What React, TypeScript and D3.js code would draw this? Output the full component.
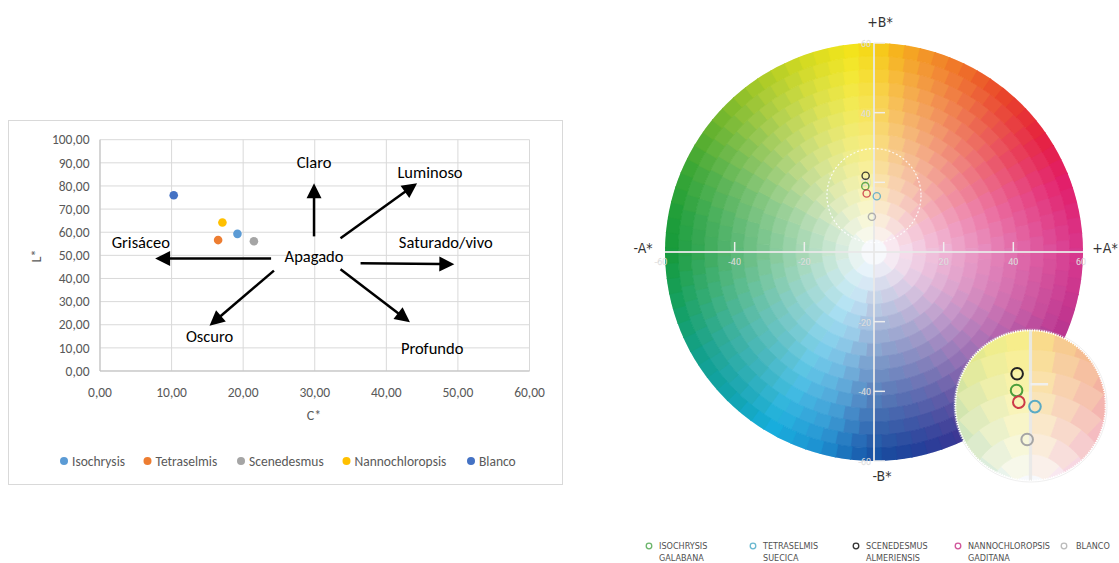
import React, { useMemo } from "react";
import * as d3 from "d3";

const W = 1119;
const H = 563;

// ---------- Left chart data (C* vs L*) ----------
const species = ["Isochrysis", "Tetraselmis", "Scenedesmus", "Nannochloropsis", "Blanco"];
const speciesColors = ["#5B9BD5", "#ED7D31", "#A5A5A5", "#FFC000", "#4472C4"];
const chromaC = [19.2, 16.5, 21.5, 17.1, 10.3];
const lightnessL = [59.3, 56.6, 56.1, 64.2, 76.0];
const xTicks = [0, 10, 20, 30, 40, 50, 60];
const yTicks = [0, 10, 20, 30, 40, 50, 60, 70, 80, 90, 100];

const annoLabels = ["Claro", "Luminoso", "Grisáceo", "Saturado/vivo", "Apagado", "Oscuro", "Profundo"];
const annoC = [29.9, 46.1, 5.7, 48.3, 29.9, 15.3, 46.4];
const annoL = [90.3, 86.0, 55.6, 55.6, 49.8, 14.9, 10.0];
const arrowFromC = [29.9, 33.6, 23.9, 36.4, 24.3, 33.6];
const arrowFromL = [58.2, 57.4, 48.6, 46.6, 43.4, 44.0];
const arrowToC = [29.9, 44.3, 7.7, 49.5, 15.3, 43.3];
const arrowToL = [81.2, 81.2, 48.6, 46.2, 19.6, 21.1];

// ---------- Right chart data (a*, b*) ----------
const labNames1 = ["ISOCHRYSIS", "TETRASELMIS", "SCENEDESMUS", "NANNOCHLOROPSIS", "BLANCO"];
const labNames2 = ["GALABANA", "SUECICA", "ALMERIENSIS", "GADITANA", ""];
const labA = [-2.5, 0.8, -2.4, -2.1, -0.6];
const labB = [18.9, 16.0, 21.9, 16.8, 10.1];
const labMarkColors = ["#4c9e3c", "#5aaac4", "#222222", "#cc3a48", "#a5a5a5"];
const labLegendColors = ["#6bb56b", "#6ab8d0", "#333333", "#d0559a", "#bbbbbb"];
const wheelTicks = [-60, -40, -20, 20, 40, 60];
const zoomCenterB = 16.2;
const zoomRadiusUnits = 13.5;
const zoomFactor = 1.6;

const hueStops: [number, string][] = [
  [0, "#d8388e"], [20, "#e21f6a"], [35, "#e5233f"], [50, "#e9452b"], [62, "#ee6a2a"],
  [75, "#f39428"], [85, "#f7b91d"], [90, "#f6d41a"], [97, "#f3e51c"], [110, "#d3da22"],
  [125, "#a5c82a"], [140, "#6fb52e"], [155, "#3da735"], [170, "#1f9e3a"], [180, "#189b3c"],
  [195, "#16a060"], [210, "#13a08a"], [225, "#12a3ad"], [240, "#18aedd"], [255, "#1e8fd0"],
  [265, "#1b65b3"], [272, "#1a4d9f"], [282, "#24409a"], [295, "#3c3894"], [310, "#6a3595"],
  [325, "#9b3595"], [340, "#c0368f"], [360, "#d8388e"],
];

function edgeColor(h: number) {
  h = ((h % 360) + 360) % 360;
  for (let i = 0; i < hueStops.length - 1; i++) {
    const [a0, c0] = hueStops[i];
    const [a1, c1] = hueStops[i + 1];
    if (h >= a0 && h <= a1) return d3.interpolateRgb(c0, c1)((h - a0) / (a1 - a0));
  }
  return hueStops[0][1];
}

const FONT_XL = "Carlito, Lato, 'Open Sans', sans-serif";
const FONT_COND = "'DejaVu Sans Condensed', 'Liberation Sans Narrow', sans-serif";

export default function App() {
  // left chart scales
  const xS = d3.scaleLinear().domain([0, 60]).range([100, 529.5]);
  const yS = d3.scaleLinear().domain([0, 100]).range([371, 139.7]);

  // wheel geometry
  const cx = 874;
  const cy = 252;
  const R = 209;
  const aS = d3.scaleLinear().domain([-60, 60]).range([cx - R, cx + R]);
  const bS = d3.scaleLinear().domain([-60, 60]).range([cy + R, cy - R]);
  const pxPerUnit = R / 60;
  const dcx = aS(0);
  const dcy = bS(zoomCenterB);
  const dR = zoomRadiusUnits * pxPerUnit;
  const icx = 1030.5;
  const icy = 405.5;
  const iR = dR * zoomFactor;

  const cells = useMemo(() => {
    const out: { d: string; c: string }[] = [];
    const N = 16;
    const rw = R / N;
    const arc = d3.arc();
    for (let i = 0; i < N; i++) {
      const r0 = i * rw;
      const r1 = r0 + rw;
      const t = i / (N - 1);
      const nSec = i === 0 ? 1 : Math.max(6, Math.round((2 * Math.PI * (r0 + r1)) / 2 / (rw * 1.15)));
      for (let j = 0; j < nSec; j++) {
        const s = (j / nSec) * 2 * Math.PI;
        const e = ((j + 1) / nSec) * 2 * Math.PI;
        const mid = (s + e) / 2;
        const hue = 90 - (mid * 180) / Math.PI;
        const base = i === 0 ? "#f7f9fc" : d3.interpolateRgb("#fbfbfd", edgeColor(hue))(Math.pow(t, 0.9));
        const d = arc({ innerRadius: r0, outerRadius: r1 + 0.4, startAngle: s, endAngle: e + 0.004 }) as string;
        out.push({ d, c: base });
      }
    }
    return out;
  }, []);

  const toInset = (x: number, y: number) => [icx + (x - dcx) * zoomFactor, icy + (y - dcy) * zoomFactor];

  const legX = [64, 147.5, 241, 346.5, 471];
  const labLegX = [649, 753, 856, 958, 1064];

  return (
    <svg width={W} height={H} style={{ position: "absolute", left: 0, top: 0, background: "#fff" }}>
      <defs>
        <clipPath id="wheelClip">
          <circle cx={cx} cy={cy} r={R} />
        </clipPath>
        <clipPath id="insetClip">
          <circle cx={icx} cy={icy} r={iR} />
        </clipPath>
      </defs>

      {/* ===== LEFT CHART ===== */}
      <rect x={8.5} y={120.5} width={554} height={364} fill="#fff" stroke="#d9d9d9" />
      {yTicks.map((t) => (
        <line key={"gy" + t} x1={xS(0)} x2={xS(60)} y1={yS(t)} y2={yS(t)} stroke="#d9d9d9" strokeWidth={1} />
      ))}
      {xTicks.map((t) => (
        <line key={"gx" + t} x1={xS(t)} x2={xS(t)} y1={yS(0)} y2={yS(100)} stroke="#d9d9d9" strokeWidth={1} />
      ))}
      <line x1={xS(0)} x2={xS(60)} y1={yS(0)} y2={yS(0)} stroke="#bfbfbf" />
      <line x1={xS(0)} x2={xS(0)} y1={yS(0)} y2={yS(100)} stroke="#bfbfbf" />
      {yTicks.map((t) => (
        <text key={"ly" + t} x={89.5} y={yS(t)} dy="0.35em" textAnchor="end" fontFamily={FONT_XL} fontSize={13.5} fill="#595959">
          {d3.format(".2f")(t).replace(".", ",")}
        </text>
      ))}
      {xTicks.map((t) => (
        <text key={"lx" + t} x={xS(t)} y={392} dy="0.35em" textAnchor="middle" fontFamily={FONT_XL} fontSize={13.5} fill="#595959">
          {d3.format(".2f")(t).replace(".", ",")}
        </text>
      ))}
      <text x={314} y={415} dy="0.35em" textAnchor="middle" fontFamily={FONT_XL} fontSize={14} fill="#595959">C*</text>
      <text transform="translate(36,256) rotate(-90)" dy="0.35em" textAnchor="middle" fontFamily={FONT_XL} fontSize={14} fill="#595959">L*</text>

      {/* arrows */}
      {arrowFromC.map((c0, i) => {
        const x0 = xS(c0), y0 = yS(arrowFromL[i]);
        const x1 = xS(arrowToC[i]), y1 = yS(arrowToL[i]);
        const ang = Math.atan2(y1 - y0, x1 - x0);
        const hl = 15, hw = 7.5;
        const bx = x1 - hl * Math.cos(ang), by = y1 - hl * Math.sin(ang);
        const px = -Math.sin(ang), py = Math.cos(ang);
        const pts = [[x1, y1], [bx + px * hw, by + py * hw], [bx - px * hw, by - py * hw]];
        return (
          <g key={"ar" + i}>
            <line x1={x0} y1={y0} x2={bx + Math.cos(ang)} y2={by + Math.sin(ang)} stroke="#000" strokeWidth={2.5} />
            <polygon points={pts.map((p) => p.join(",")).join(" ")} fill="#000" />
          </g>
        );
      })}
      {annoLabels.map((l, i) => (
        <text key={"an" + i} x={xS(annoC[i])} y={yS(annoL[i])} dy="0.35em" textAnchor="middle" fontFamily={FONT_XL} fontSize={16.5} fill="#000">
          {l}
        </text>
      ))}

      {/* points */}
      {species.map((s, i) => (
        <circle key={"pt" + s} cx={xS(chromaC[i])} cy={yS(lightnessL[i])} r={4.3} fill={speciesColors[i]} />
      ))}

      {/* legend */}
      {species.map((s, i) => (
        <g key={"lg" + s}>
          <circle cx={legX[i]} cy={461} r={4} fill={speciesColors[i]} />
          <text x={legX[i] + 8} y={461} dy="0.35em" fontFamily={FONT_XL} fontSize={13.5} fill="#595959">{s}</text>
        </g>
      ))}

      {/* ===== RIGHT CHART: CIELAB wheel ===== */}
      <g id="wheelGroup">
        <g clipPath="url(#wheelClip)">
          {cells.map((c, i) => (
            <path key={"c" + i} d={c.d} transform={`translate(${cx},${cy})`} fill={c.c} stroke={c.c} strokeWidth={0.5} />
          ))}
        </g>
        <line x1={cx - R} x2={cx + R} y1={cy} y2={cy} stroke="rgba(232,232,232,0.9)" strokeWidth={2} />
        <line x1={cx} x2={cx} y1={cy - R} y2={cy + R} stroke="rgba(232,232,232,0.9)" strokeWidth={2} />
        {wheelTicks.filter((t) => Math.abs(t) < 60).map((t) => (
          <line key={"ta" + t} x1={aS(t)} x2={aS(t)} y1={cy - 10} y2={cy} stroke="rgba(240,240,240,0.95)" strokeWidth={1.5} />
        ))}
        {wheelTicks.map((t) => (
          <line key={"tb" + t} x1={cx} x2={cx + 11} y1={bS(t)} y2={bS(t)} stroke="rgba(240,240,240,0.95)" strokeWidth={1.5} />
        ))}
      </g>
      <circle cx={dcx} cy={dcy} r={dR} fill="none" stroke="rgba(255,255,255,0.85)" strokeWidth={1.2} strokeDasharray="2 2" />

      {wheelTicks.map((t) => (
        <text key={"wa" + t} x={aS(t) + (t === -60 ? -4 : t === 60 ? -2 : 0)} y={cy + 10} dy="0.35em" textAnchor="middle" fontFamily="Roboto, sans-serif" fontSize={9} fill="rgba(245,245,245,0.95)" stroke="rgba(160,160,160,0.35)" strokeWidth={0.4}>
          {t}
        </text>
      ))}
      {wheelTicks.map((t) => (
        <text key={"wb" + t} x={cx - 3} y={bS(t) + 1} dy="0.35em" textAnchor="end" fontFamily="Roboto, sans-serif" fontSize={9} fill="rgba(245,245,245,0.95)" stroke="rgba(160,160,160,0.35)" strokeWidth={0.4}>
          {t}
        </text>
      ))}

      <text x={880} y={22} dy="0.35em" textAnchor="middle" fontFamily={FONT_COND} fontSize={14} fill="#333">+B*</text>
      <text x={882} y={476} dy="0.35em" textAnchor="middle" fontFamily={FONT_COND} fontSize={14} fill="#333">-B*</text>
      <text x={643} y={248} dy="0.35em" textAnchor="middle" fontFamily={FONT_COND} fontSize={14} fill="#333">-A*</text>
      <text x={1105} y={248} dy="0.35em" textAnchor="middle" fontFamily={FONT_COND} fontSize={14} fill="#333">+A*</text>

      {/* main markers */}
      {labA.map((a, i) => (
        <circle key={"lm" + i} cx={aS(a)} cy={bS(labB[i])} r={3.6} fill="none" stroke={labMarkColors[i]} strokeWidth={1.4} opacity={0.85} />
      ))}

      {/* inset magnifier */}
      <circle cx={icx} cy={icy} r={iR} fill="#fff" />
      <g clipPath="url(#insetClip)">
        <use href="#wheelGroup" transform={`translate(${icx},${icy}) scale(${zoomFactor}) translate(${-dcx},${-dcy})`} />
      </g>
      <circle cx={icx} cy={icy} r={iR} fill="none" stroke="#ffffff" strokeWidth={2.2} strokeDasharray="1.2 1.2" />
      <circle cx={icx} cy={icy} r={iR + 1.3} fill="none" stroke="rgba(200,200,200,0.5)" strokeWidth={0.6} />
      {labA.map((a, i) => {
        const [x, y] = toInset(aS(a), bS(labB[i]));
        return <circle key={"im" + i} cx={x} cy={y} r={5.8} fill="none" stroke={labMarkColors[i]} strokeWidth={2} />;
      })}

      {/* right legend */}
      {labNames1.map((n, i) => (
        <g key={"rl" + i}>
          <circle cx={labLegX[i]} cy={546} r={2.8} fill="none" stroke={labLegendColors[i]} strokeWidth={1.3} />
          <text x={labLegX[i] + (i === 4 ? 12 : 10)} y={546} dy="0.35em" fontFamily={FONT_COND} fontSize={9} fill="#505050">{n}</text>
          {labNames2[i] && (
            <text x={labLegX[i] + 10} y={558} dy="0.35em" fontFamily={FONT_COND} fontSize={9} fill="#505050">{labNames2[i]}</text>
          )}
        </g>
      ))}
    </svg>
  );
}
